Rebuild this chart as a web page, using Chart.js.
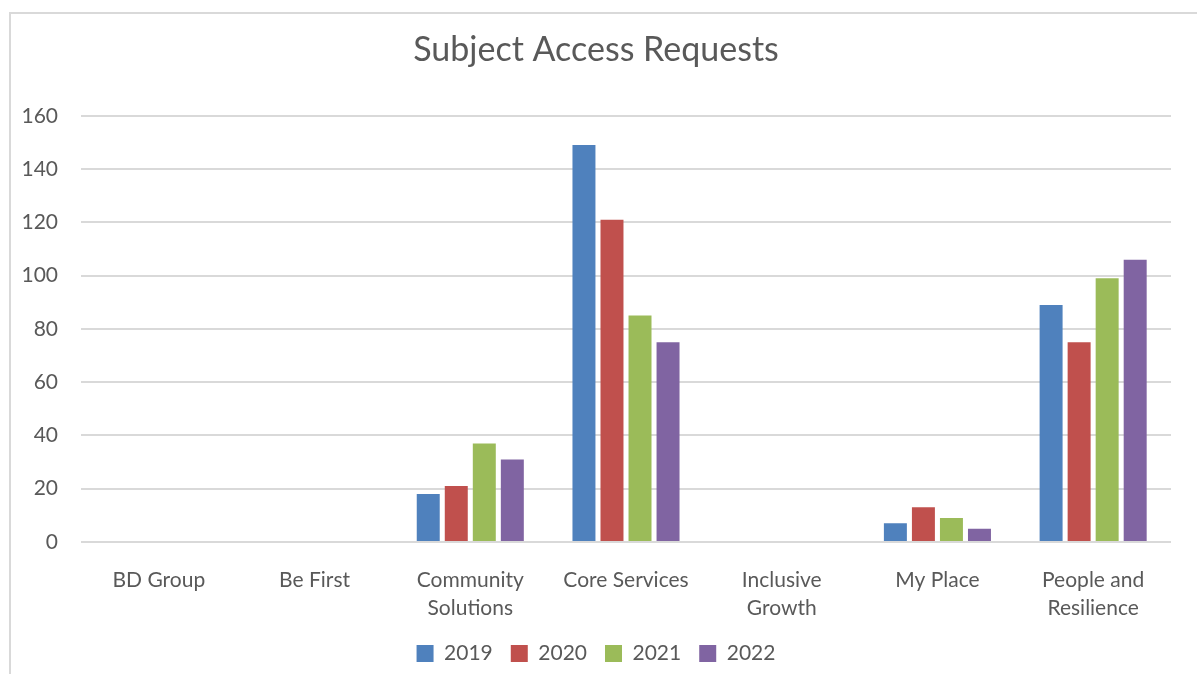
<!DOCTYPE html>
<html>
<head>
<meta charset="utf-8">
<title>Subject Access Requests</title>
<script src="https://cdn.jsdelivr.net/npm/chart.js@4/dist/chart.umd.min.js"></script>
<style>
  html, body { margin: 0; padding: 0; background: #fff; overflow: hidden; }
  #frame {
    position: absolute; left: 9px; top: 12px;
    width: 1300px; height: 800px;
    border: 2px solid #d9d9d9;
  }
  #sar { position: absolute; left: 0; top: 0; }
</style>
</head>
<body>
<div id="frame"></div>
<canvas id="sar" width="1197" height="674"></canvas>
<script>
const departments = [
  'BD Group', 'Be First', ['Community', 'Solutions'], 'Core Services',
  ['Inclusive', 'Growth'], 'My Place', ['People and', 'Resilience']
];
const years = ['2019', '2020', '2021', '2022'];
const requests2019 = [null, null, 18, 149, null, 7, 89];
const requests2020 = [null, null, 21, 121, null, 13, 75];
const requests2021 = [null, null, 37, 85, null, 9, 99];
const requests2022 = [null, null, 31, 75, null, 5, 106];
const yTicks = [0, 20, 40, 60, 80, 100, 120, 140, 160];

const colours = ['#4f81bd', '#c0504d', '#9bbb59', '#8064a2'];
const series = [requests2019, requests2020, requests2021, requests2022];
const textColour = '#595959';
const fontFamily = 'Lato, "Open Sans", sans-serif';

new Chart(document.getElementById('sar').getContext('2d'), {
  type: 'bar',
  data: {
    labels: departments,
    datasets: years.map((y, i) => ({
      label: y,
      data: series[i],
      backgroundColor: colours[i],
      borderWidth: 0,
      categoryPercentage: 0.72,
      barPercentage: 0.82
    }))
  },
  options: {
    responsive: false,
    animation: false,
    layout: { padding: { left: 21, right: 26, top: 0, bottom: 0 } },
    plugins: {
      title: {
        display: true,
        text: 'Subject Access Requests',
        color: textColour,
        font: { family: fontFamily, size: 34, weight: 'normal', lineHeight: 1.2 },
        padding: { top: 30, bottom: 45 }
      },
      legend: {
        position: 'bottom',
        labels: {
          color: textColour,
          font: { family: fontFamily, size: 21 },
          boxWidth: 17,
          boxHeight: 17,
          padding: 18
        }
      },
      tooltip: { enabled: false }
    },
    scales: {
      x: {
        grid: { display: false, drawTicks: false },
        border: { display: false },
        ticks: {
          color: textColour,
          font: { family: fontFamily, size: 21, lineHeight: 1.35 },
          padding: 24,
          maxRotation: 0,
          autoSkip: false
        },
        afterFit: scale => { scale.height = 83; }
      },
      y: {
        min: 0,
        max: 160,
        afterBuildTicks: scale => { scale.ticks = yTicks.map(v => ({ value: v })); },
        grid: { color: '#d9d9d9', lineWidth: 2, drawTicks: false },
        border: { display: false },
        ticks: {
          color: textColour,
          font: { family: fontFamily, size: 21 },
          padding: 23
        },
        afterFit: scale => { scale.width = 60; }
      }
    }
  }
});
</script>
</body>
</html>
